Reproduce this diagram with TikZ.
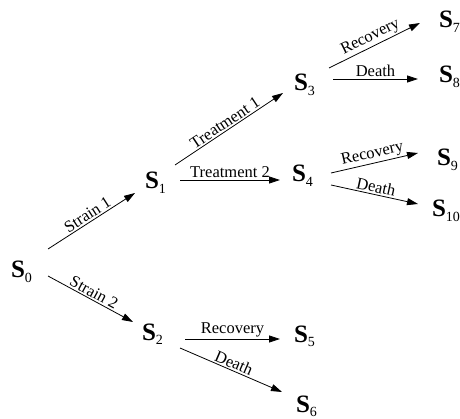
\documentclass[tikz,border=0pt]{standalone}
\usepackage{fontspec}
\setmainfont{Liberation Serif}
\usetikzlibrary{arrows.meta}
\newcommand{\subn}[1]{\raisebox{-4.5pt}{\fontsize{14}{14}\selectfont #1}}
\newcommand{\stn}[1]{{\fontsize{25}{25}\selectfont\textbf{S}}\subn{#1}}
\tikzset{
  state/.style={anchor=base west, inner sep=0pt, outer sep=0pt},
  arr/.style={line width=0.8pt, -{Triangle[length=11pt,width=7pt]}},
  lab/.style={midway, above, sloped, inner sep=1.5pt, font=\fontsize{16.5}{17}\selectfont}
}
\begin{document}
\begin{tikzpicture}[x=1pt,y=-1pt]
\useasboundingbox (0,0) rectangle (460,419);
\node[state] (s0) at (11,278) {\stn{0}};
\node[state] (s1) at (145,189) {\stn{1}};
\node[state] (s2) at (142,340) {\stn{2}};
\node[state] (s3) at (294,91) {\stn{3}};
\node[state] (s4) at (292,182) {\stn{4}};
\node[state] (s5) at (294,342) {\stn{5}};
\node[state] (s6) at (296,412) {\stn{6}};
\node[state] (s7) at (439,28) {\stn{7}};
\node[state] (s8) at (439,83) {\stn{8}};
\node[state] (s9) at (437,166) {\stn{9}};
\node[state] (s10) at (432,217) {\stn{10}};

\draw[arr] ([shift={(37,-29)}]s0.base west) -- ([shift={(-10,4)}]s1.base west) node[lab] {Strain 1};
\draw[arr] ([shift={(37,-2)}]s0.base west) -- ([shift={(-9,-18)}]s2.base west) node[lab] {Strain 2};
\draw[arr] ([shift={(30,-24)}]s1.base west) -- ([shift={(-11,2)}]s3.base west) node[lab] {Treatment 1};
\draw[arr] ([shift={(35,-9)}]s1.base west) -- ([shift={(-12,-2)}]s4.base west) node[lab] {Treatment 2};
\draw[arr] ([shift={(35,-23)}]s3.base west) -- ([shift={(-19,-5)}]s7.base west) node[lab] {Recovery};
\draw[arr] ([shift={(39,-12)}]s3.base west) -- ([shift={(-21,-4)}]s8.base west) node[lab] {Death};
\draw[arr] ([shift={(39,-9)}]s4.base west) -- ([shift={(-19,-13)}]s9.base west) node[lab] {Recovery};
\draw[arr] ([shift={(39,3)}]s4.base west) -- ([shift={(-14,-13)}]s10.base west) node[lab] {Death};
\draw[arr] ([shift={(43,-1)}]s2.base west) -- ([shift={(-14,-3)}]s5.base west) node[lab] {Recovery};
\draw[arr] ([shift={(38,8)}]s2.base west) -- ([shift={(-14,-20)}]s6.base west) node[lab] {Death};
\end{tikzpicture}
\end{document}
